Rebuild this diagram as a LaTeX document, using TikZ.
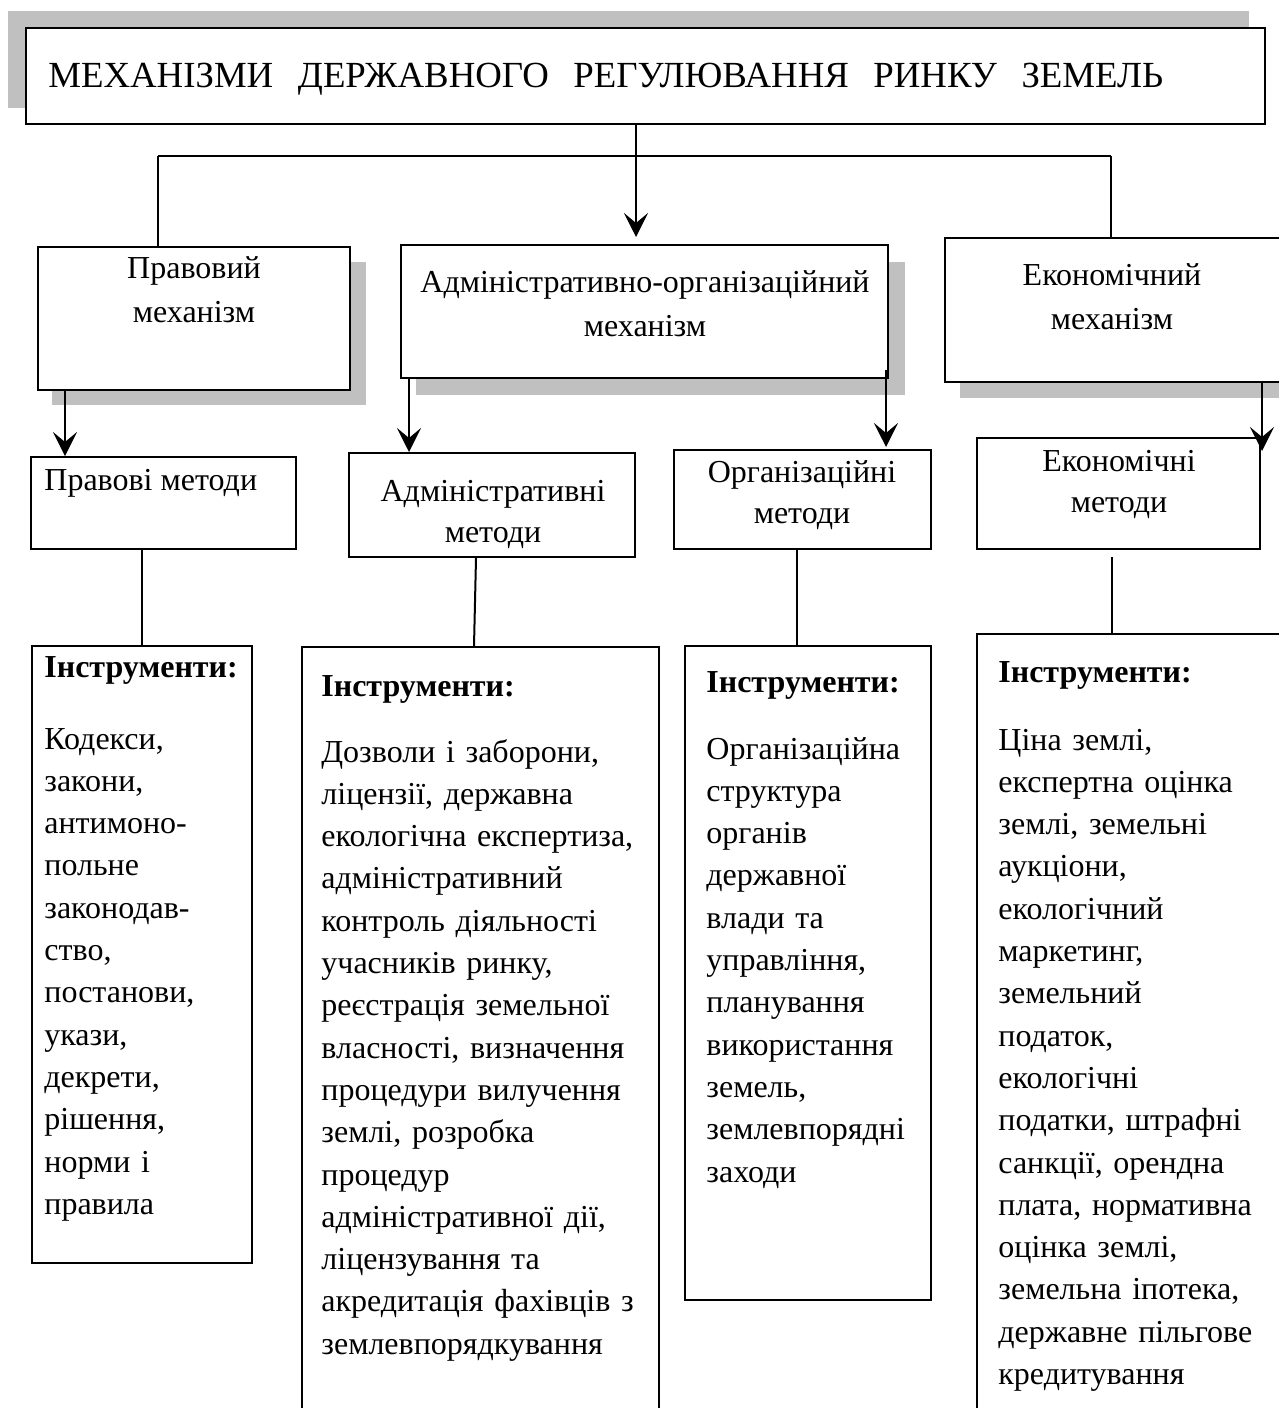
\documentclass[tikz,border=0pt]{standalone}
\usepackage{fontspec}
\setmainfont{Liberation Serif}
\usetikzlibrary{arrows.meta,fit}
\definecolor{shadowgray}{RGB}{192,192,192}
\begin{document}
\begin{tikzpicture}[x=0.5pt,y=-0.5pt,
  box/.style={draw, line width=1pt, inner sep=0pt, fill=white},
  ibox/.style={draw, line width=0.85pt, inner sep=0pt, fill=white},
  shadowfill/.style={fill=shadowgray},
  conn/.style={line width=1pt},
  arr/.style={line width=1pt, -{Stealth[length=12pt,width=12pt,inset=5pt]}},
  txt/.style={inner sep=0pt, font=\fontsize{16}{21.15}\selectfont},
  ctxt/.style={inner sep=0pt, align=center, font=\fontsize{16}{22}\selectfont},
  mtxt/.style={inner sep=0pt, align=center, font=\fontsize{16}{20.5}\selectfont},
  btxt/.style={inner sep=0pt, align=left, text width=200pt, font=\fontsize{16}{21.15}\selectfont},
  htxt/.style={inner sep=0pt, font=\fontsize{16}{21.15}\selectfont\bfseries}
]
\useasboundingbox (0,0) rectangle (1279,1408);
\clip (0,0) rectangle (1279,1408);

% ---- shadows
\fill[shadowfill] (8,11) rectangle (1249,108);
\fill[shadowfill] (52,262) rectangle (366,405);
\fill[shadowfill] (416,262) rectangle (905,395);
\fill[shadowfill] (960,262) rectangle (1300,398);

% ---- boxes
\node[box, fit={(26,28) (1265,124)}] (title) {};
\node[box, fit={(38,247) (350,390)}] (prav) {};
\node[box, fit={(401,245) (888,378)}] (adm) {};
\node[box, fit={(945,238) (1300,382)}] (econ) {};

\node[box, fit={(31,457) (296,549)}] (pm) {};
\node[box, fit={(349,453) (635,557)}] (am) {};
\node[box, fit={(674,450) (931,549)}] (om) {};
\node[box, fit={(977,438) (1260,549)}] (em) {};

\node[ibox, fit={(32,646) (252,1263)}] (ip) {};
\node[ibox, fit={(302,647) (659,1420)}] (ia) {};
\node[ibox, fit={(685,646) (931,1300)}] (io) {};
\node[ibox, fit={(977,634) (1300,1420)}] (ie) {};

% ---- helper coordinates
\coordinate (hl) at (158,156);
\coordinate (hr) at (1111,156);
\coordinate (x636) at (636,0);
\coordinate (x65) at (65,0);
\coordinate (x409) at (409,0);
\coordinate (x886) at (886,0);
\coordinate (x1262) at (1262,0);
\coordinate (x142) at (142,0);
\coordinate (x476) at (476,0);
\coordinate (x474) at (474,0);
\coordinate (x797) at (797,0);
\coordinate (x1112) at (1112,0);
\coordinate (emb) at (1112,557);
\coordinate (admr) at (886,370);

% ---- connectors
\draw[conn] (hl) -- (hr);
\draw[conn] (hl) -- (prav.north -| hl);
\draw[conn] (hr) -- (econ.north -| hr);
\draw[arr, shorten >=3.5pt] (title.south -| x636) -- (adm.north -| x636);
\draw[arr] (prav.south -| x65) -- (pm.north -| x65);
\draw[arr] (adm.south -| x409) -- (am.north -| x409);
\draw[arr, shorten >=1pt] (admr) -- (om.north -| x886);
\draw[arr, shorten >=-7pt] (econ.south -| x1262) -- (em.north -| x1262);

\draw[conn] (pm.south -| x142) -- (ip.north -| x142);
\draw[conn] (am.south -| x476) -- (ia.north -| x474);
\draw[conn] (om.south -| x797) -- (io.north -| x797);
\draw[conn] (emb) -- (ie.north -| x1112);

% ---- texts
\node[txt, anchor=base west] (titletext) at (48,87)
  {\fontsize{18.4}{22}\selectfont\makebox[557.5pt][s]{МЕХАНІЗМИ ДЕРЖАВНОГО РЕГУЛЮВАННЯ РИНКУ ЗЕМЕЛЬ}};

\node[ctxt, text width=150pt, anchor=base] (pravt) at (194,278) {Правовий\\механізм};
\node[ctxt, text width=240pt, anchor=base] (admt) at (645,292) {Адміністративно-організаційний\\механізм};
\node[ctxt, text width=160pt, anchor=base] (econt) at (1112,285) {Економічний\\механізм};

\node[txt, anchor=base west] (pmt) at (44,490) {Правові методи};
\node[mtxt, text width=140pt, anchor=base] (amt) at (493,501) {Адміністративні\\методи};
\node[mtxt, text width=125pt, anchor=base] (omt) at (802,482) {Організаційні\\методи};
\node[mtxt, text width=140pt, anchor=base] (emt) at (1119,471) {Економічні\\методи};

\node[htxt, anchor=base west] (iph) at (44,677) {Інструменти:};
\node[htxt, anchor=base west] (iah) at (321,696) {Інструменти:};
\node[htxt, anchor=base west] (ioh) at (706,692) {Інструменти:};
\node[htxt, anchor=base west] (ieh) at (998,682) {Інструменти:};

\node[btxt, anchor=base west] (ipt) at (44,749)
  {Кодекси,\\закони,\\антимоно-\\польне\\законодав-\\ство,\\постанови,\\укази,\\декрети,\\рішення,\\норми і\\правила};
\node[btxt, anchor=base west] (iat) at (321,762)
  {Дозволи і заборони,\\ліцензії, державна\\екологічна експертиза,\\адміністративний\\контроль діяльності\\учасників ринку,\\реєстрація земельної\\власності, визначення\\процедури вилучення\\землі, розробка\\процедур\\адміністративної дії,\\ліцензування та\\акредитація фахівців з\\землевпорядкування};
\node[btxt, anchor=base west] (iot) at (706,759)
  {Організаційна\\структура\\органів\\державної\\влади та\\управління,\\планування\\використання\\земель,\\землевпорядні\\заходи};
\node[btxt, anchor=base west] (iet) at (998,750)
  {Ціна землі,\\експертна оцінка\\землі, земельні\\аукціони,\\екологічний\\маркетинг,\\земельний\\податок,\\екологічні\\податки, штрафні\\санкції, орендна\\плата, нормативна\\оцінка землі,\\земельна іпотека,\\державне пільгове\\кредитування};
\end{tikzpicture}
\end{document}
